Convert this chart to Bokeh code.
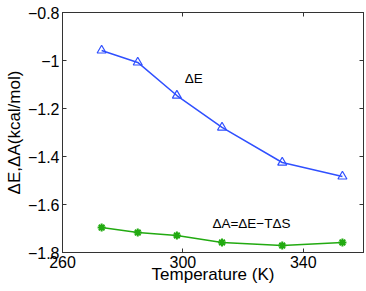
from bokeh.plotting import figure
from bokeh.models import Range1d, LinearAxis, FixedTicker, Label, ColumnDataSource
from bokeh.embed import file_html
from bokeh.resources import INLINE

# Data
temperature = [273, 285, 298, 313, 333, 353]
delta_e = [-0.958, -1.008, -1.146, -1.279, -1.425, -1.483]
delta_a = [-1.696, -1.717, -1.729, -1.758, -1.771, -1.758]

x_ticks = [260, 300, 340]
y_ticks = [-1.8, -1.6, -1.4, -1.2, -1.0, -0.8]
y_tick_labels = ["\u22121.8", "\u22121.6", "\u22121.4", "\u22121.2", "\u22121", "\u22120.8"]

FONT = "Liberation Sans"
BLUE = "#3050ff"
GREEN = "#22aa11"
AXIS_COLOR = "#333333"

p = figure(width=366, height=291, output_backend="svg", toolbar_location=None,
           x_range=Range1d(260, 360), y_range=Range1d(-1.8, -0.8),
           x_axis_label="Temperature (K)", y_axis_label="\u0394E,\u0394A(kcal/mol)",
           min_border_left=62, min_border_right=3, min_border_top=12, min_border_bottom=39)
p.grid.visible = False
p.background_fill_color = "white"
p.border_fill_color = "white"
p.outline_line_color = AXIS_COLOR
p.outline_line_width = 1

for ax in p.xaxis:
    ax.ticker = FixedTicker(ticks=x_ticks)
    ax.major_label_standoff = 3
    ax.axis_label_standoff = -6
for ax in p.yaxis:
    ax.ticker = FixedTicker(ticks=y_ticks)
    ax.major_label_overrides = {t: l for t, l in zip(y_ticks, y_tick_labels)}
    ax.major_label_standoff = 3
    ax.axis_label_standoff = 1

for ax in list(p.xaxis) + list(p.yaxis):
    ax.major_tick_in = 4
    ax.major_tick_out = 0
    ax.minor_tick_in = 0
    ax.minor_tick_out = 0
    ax.minor_tick_line_color = None
    ax.axis_line_color = AXIS_COLOR
    ax.major_tick_line_color = AXIS_COLOR
    ax.major_label_text_font = FONT
    ax.major_label_text_font_size = "16px"
    ax.major_label_text_color = "black"
    ax.axis_label_text_font = FONT
    ax.axis_label_text_font_size = "17px"
    ax.axis_label_text_font_style = "normal"
    ax.axis_label_text_color = "black"


def tick_axis(ticks):
    return LinearAxis(ticker=FixedTicker(ticks=ticks), major_label_text_font_size="0px",
                      major_label_text_color=None, major_label_standoff=0,
                      major_tick_in=4, major_tick_out=0, minor_tick_in=0, minor_tick_out=0,
                      minor_tick_line_color=None,
                      axis_line_color=AXIS_COLOR, major_tick_line_color=AXIS_COLOR)


# mirrored ticks on top and right
p.add_layout(tick_axis(x_ticks), "above")
p.add_layout(tick_axis(y_ticks), "right")

src = ColumnDataSource(dict(t=temperature, e=delta_e, a=delta_a))

p.line("t", "e", source=src, line_color=BLUE, line_width=1.5)
p.scatter("t", "e", source=src, marker="triangle", size=9, fill_color=None,
          line_color=BLUE, line_width=1.2)

p.line("t", "a", source=src, line_color=GREEN, line_width=1.5)
p.scatter("t", "a", source=src, marker="asterisk", size=8, line_color=GREEN, line_width=2)

p.add_layout(Label(x=300.6, y=-1.075, text="\u0394E", text_font=FONT,
                   text_font_size="13.5px", text_color="black", text_baseline="alphabetic"))
p.add_layout(Label(x=309.8, y=-1.679, text="\u0394A=\u0394E\u2212T\u0394S", text_font=FONT,
                   text_font_size="13.5px", text_color="black", text_baseline="alphabetic"))

open("out.html", "w").write(file_html(p, INLINE))
